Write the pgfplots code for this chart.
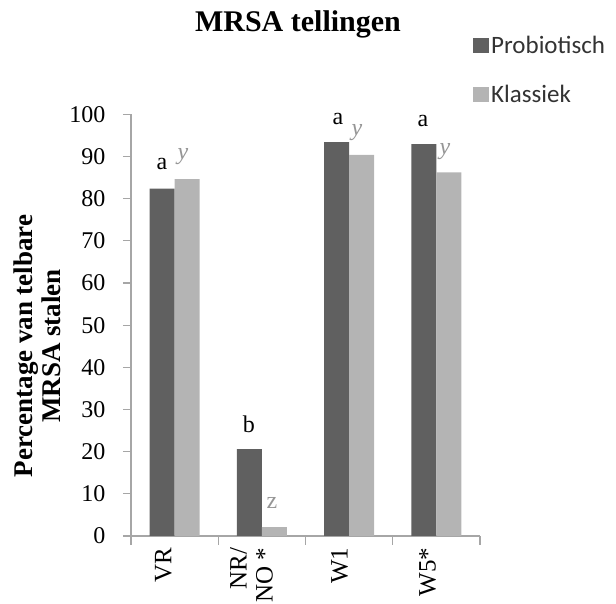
\documentclass[border=0pt]{standalone}
\usepackage{fontspec}
\setmainfont{Liberation Serif}
\newfontfamily\legfont{Carlito}
\usepackage{pgfplots}
\pgfplotsset{compat=1.18}
\definecolor{darkbar}{RGB}{96,96,96}
\definecolor{lightbar}{RGB}{180,180,180}
\definecolor{axisgray}{RGB}{166,166,166}
\definecolor{annogray}{RGB}{150,150,150}
\pgfplotsset{sqlegend/.style={legend image code/.code={\fill[##1] (0pt,-7.5pt) rectangle (16pt,7.5pt);}}}
\begin{document}
\begin{tikzpicture}
\useasboundingbox (-131pt,-68pt) rectangle (485pt,536pt);
\begin{axis}[
  scale only axis, width=349pt, height=421.7pt,
  ybar=0pt, bar width=25pt,
  xmin=-0.5, xmax=3.5, ymin=0, ymax=100,
  ytick={0,10,...,100},
  xtick={-0.13,0.88,1.89,2.9},
  xticklabels={VR, {NR/\\NO *}, W1, W5*},
  minor xtick={-0.5,0.5,1.5,2.5,3.5},
  major x tick style={draw=none},
  tick align=outside,
  major tick length=8pt, minor tick length=9pt,
  axis x line*=bottom, axis y line*=left,
  axis line style={axisgray, line width=1.2pt, -},
  tick style={axisgray, line width=1.2pt},
  xticklabel style={rotate=90, anchor=east, align=right, font=\fontsize{25}{26}\selectfont},
  yticklabel style={font=\fontsize{24}{26}\selectfont, xshift=-14pt},
  /pgf/number format/assume math mode=true,
  legend style={draw=none, fill=none, at={(0.98,1.19)}, anchor=north west,
    font=\legfont\fontsize{25}{26}\selectfont, text=black!80, row sep=26pt,
    inner sep=0pt, nodes={inner sep=2pt}},
  legend cell align=left,
  clip=false,
]
\addplot[fill=darkbar, draw=none, sqlegend] coordinates {(0,82.4) (1,20.6) (2,93.4) (3,92.9)};
\addplot[fill=lightbar, draw=none, sqlegend] coordinates {(0,84.6) (1,2.1) (2,90.4) (3,86.2)};
\legend{Probiotisch, Klassiek}
\node[font=\fontsize{24}{24}\selectfont] at (axis cs:-0.145,88.1) {a};
\node[font=\fontsize{24}{24}\selectfont] at (axis cs:1.872,98.8) {a};
\node[font=\fontsize{24}{24}\selectfont] at (axis cs:2.847,98.3) {a};
\node[font=\fontsize{24}{24}\selectfont] at (axis cs:0.852,26.4) {b};
\node[font=\itshape\fontsize{24}{24}\selectfont, text=annogray] at (axis cs:0.096,89.9) {y};
\node[font=\itshape\fontsize{24}{24}\selectfont, text=annogray] at (axis cs:2.09,95.6) {y};
\node[font=\itshape\fontsize{24}{24}\selectfont, text=annogray] at (axis cs:3.099,91.2) {y};
\node[font=\fontsize{24}{24}\selectfont, text=annogray] at (axis cs:1.116,7.8) {z};
\end{axis}
\node[anchor=base, font=\bfseries\fontsize{30}{30}\selectfont] at (167pt,504pt) {MRSA tellingen};
\node[rotate=90, align=center, font=\bfseries\fontsize{27}{28}\selectfont] at (-94pt,190pt) {Percentage van telbare\\MRSA stalen};
\end{tikzpicture}
\end{document}
